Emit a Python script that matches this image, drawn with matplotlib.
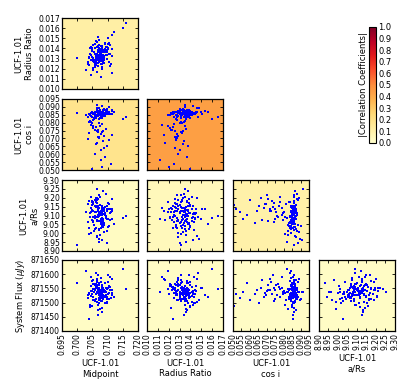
import numpy as np
import matplotlib
matplotlib.use("Agg")
import matplotlib.pyplot as plt
from matplotlib import cm, colors

# posterior samples (core cloud first, low-cos i tail last)
midpoint = [
    0.7070, 0.7086, 0.7059, 0.7082, 0.7098, 0.7073, 0.7050, 0.7079, 0.7093, 0.7066,
    0.7064, 0.7107, 0.7077, 0.7044, 0.7089, 0.7071, 0.7082, 0.7055, 0.7102, 0.7075,
    0.7062, 0.7084, 0.7068, 0.7095, 0.7079, 0.7053, 0.7073, 0.7088, 0.7061, 0.7080,
    0.7113, 0.7070, 0.7046, 0.7091, 0.7077, 0.7066, 0.7086, 0.7057, 0.7097, 0.7071,
    0.7082, 0.7052, 0.7075, 0.7100, 0.7062, 0.7079, 0.7068, 0.7089, 0.7041, 0.7073,
    0.7084, 0.7059, 0.7080, 0.7106, 0.7070, 0.7064, 0.7093, 0.7077, 0.7048, 0.7082,
    0.7071, 0.7088, 0.7061, 0.7075, 0.7098, 0.7066, 0.7080, 0.7055, 0.7086, 0.7073,
    0.7047, 0.7101, 0.7052, 0.7098, 0.7040, 0.7107, 0.7035, 0.7113, 0.7043, 0.7104,
    0.7077, 0.7068, 0.7091, 0.7053, 0.7082, 0.7070, 0.7102, 0.7062, 0.7079, 0.7084,
    0.7073, 0.7095, 0.7057, 0.7080, 0.7066, 0.7089, 0.7050, 0.7075, 0.7109, 0.7071,
    0.7030, 0.7122, 0.7050, 0.7160, 0.7000, 0.7115, 0.7038, 0.7150, 0.7064, 0.7086,
    0.7077, 0.7070, 0.7097, 0.7059, 0.7082,
    0.7073, 0.7062, 0.7086, 0.7053, 0.7079, 0.7095, 0.7068, 0.7046, 0.7082, 0.7106,
    0.7059, 0.7075, 0.7089, 0.7066, 0.7039, 0.7080, 0.7098, 0.7071, 0.7052, 0.7084,
    0.7064, 0.7077, 0.7115, 0.7057, 0.7070, 0.7091, 0.7035, 0.7079, 0.7068, 0.7110,
    0.7061, 0.7082, 0.7073, 0.7048, 0.7088,
]
radius_ratio = [
    0.0136, 0.0131, 0.0140, 0.0128, 0.0134, 0.0143, 0.0137, 0.0125, 0.0139, 0.0132,
    0.0146, 0.0135, 0.0129, 0.0141, 0.0133, 0.0138, 0.0122, 0.0136, 0.0144, 0.0130,
    0.0135, 0.0127, 0.0142, 0.0134, 0.0139, 0.0131, 0.0148, 0.0136, 0.0126, 0.0140,
    0.0133, 0.0137, 0.0129, 0.0145, 0.0135, 0.0132, 0.0138, 0.0124, 0.0141, 0.0136,
    0.0130, 0.0143, 0.0134, 0.0139, 0.0128, 0.0137, 0.0151, 0.0133, 0.0140, 0.0131,
    0.0136, 0.0126, 0.0142, 0.0135, 0.0138, 0.0129, 0.0144, 0.0134, 0.0137, 0.0121,
    0.0139, 0.0132, 0.0147, 0.0135, 0.0130, 0.0141, 0.0136, 0.0127, 0.0138, 0.0133,
    0.0134, 0.0140, 0.0128, 0.0137, 0.0131, 0.0143, 0.0125, 0.0139, 0.0135, 0.0145,
    0.0132, 0.0138, 0.0136, 0.0129, 0.0142, 0.0134, 0.0150, 0.0131, 0.0139, 0.0137,
    0.0127, 0.0141, 0.0135, 0.0133, 0.0146, 0.0130, 0.0138, 0.0136, 0.0123, 0.0140,
    0.0119, 0.0156, 0.0132, 0.0165, 0.0131, 0.0153, 0.0124, 0.0160, 0.0135, 0.0137,
    0.0142, 0.0129, 0.0136, 0.0144, 0.0133,
    0.0130, 0.0124, 0.0133, 0.0119, 0.0128, 0.0136, 0.0126, 0.0114, 0.0131, 0.0127,
    0.0122, 0.0135, 0.0129, 0.0117, 0.0132, 0.0125, 0.0138, 0.0128, 0.0121, 0.0134,
    0.0126, 0.0130, 0.0116, 0.0129, 0.0123, 0.0137, 0.0127, 0.0112, 0.0131, 0.0125,
    0.0133, 0.0120, 0.0128, 0.0140, 0.0126,
]
cos_i = [
    0.0855, 0.0844, 0.0865, 0.0851, 0.0873, 0.0859, 0.0836, 0.0862, 0.0879, 0.0847,
    0.0868, 0.0854, 0.0841, 0.0860, 0.0886, 0.0849, 0.0863, 0.0827, 0.0857, 0.0871,
    0.0846, 0.0867, 0.0852, 0.0876, 0.0839, 0.0859, 0.0894, 0.0851, 0.0865, 0.0831,
    0.0855, 0.0875, 0.0844, 0.0862, 0.0854, 0.0883, 0.0847, 0.0868, 0.0857, 0.0822,
    0.0865, 0.0852, 0.0878, 0.0860, 0.0838, 0.0870, 0.0855, 0.0889, 0.0849, 0.0863,
    0.0843, 0.0867, 0.0857, 0.0900, 0.0846, 0.0871, 0.0854, 0.0833, 0.0862, 0.0851,
    0.0875, 0.0859, 0.0839, 0.0865, 0.0884, 0.0847, 0.0860, 0.0823, 0.0868, 0.0855,
    0.0804, 0.0862, 0.0815, 0.0871, 0.0805, 0.0857, 0.0835, 0.0879, 0.0809, 0.0865,
    0.0852, 0.0873, 0.0844, 0.0863, 0.0907, 0.0854, 0.0867, 0.0830, 0.0859, 0.0878,
    0.0849, 0.0870, 0.0841, 0.0860, 0.0891, 0.0852, 0.0865, 0.0828, 0.0857, 0.0875,
    0.0846, 0.0868, 0.0795, 0.0838, 0.0859, 0.0871, 0.0854, 0.0822, 0.0912, 0.0851,
    0.0863, 0.0843, 0.0876, 0.0855, 0.0867,
    0.0795, 0.0772, 0.0748, 0.0781, 0.0726, 0.0763, 0.0709, 0.0788, 0.0741, 0.0690,
    0.0756, 0.0778, 0.0718, 0.0672, 0.0733, 0.0791, 0.0652, 0.0703, 0.0766, 0.0684,
    0.0745, 0.0628, 0.0719, 0.0603, 0.0751, 0.0584, 0.0697, 0.0562, 0.0738, 0.0541,
    0.0665, 0.0519, 0.0710, 0.0505, 0.0640,
]
a_rs = [
    9.103, 9.041, 9.152, 9.084, 9.127, 9.018, 9.176, 9.063, 9.114, 9.092,
    8.987, 9.135, 9.072, 9.204, 9.046, 9.098, 9.143, 9.013, 9.081, 9.161,
    9.117, 9.034, 9.089, 9.223, 9.057, 9.126, 8.968, 9.106, 9.148, 9.039,
    9.078, 9.132, 9.004, 9.112, 9.069, 9.187, 9.052, 9.094, 9.139, 8.952,
    9.121, 9.061, 9.101, 9.168, 9.027, 9.083, 9.134, 9.009, 9.115, 9.213,
    9.074, 9.096, 9.155, 9.043, 9.124, 8.981, 9.108, 9.058, 9.182, 9.086,
    9.022, 9.141, 9.091, 9.118, 8.943, 9.071, 9.129, 9.049, 9.238, 9.104,
    9.122, 9.037, 9.163, 9.079, 8.998, 9.113, 9.064, 9.192, 9.093, 9.136,
    9.031, 9.099, 9.147, 9.068, 8.961, 9.125, 9.082, 9.174, 9.054, 9.109,
    9.144, 9.088, 9.024, 9.102, 9.198, 9.059, 9.131, 8.992, 9.077, 9.116,
    9.119, 9.051, 9.073, 9.097, 8.932, 9.138, 9.028, 9.087, 9.251, 9.062,
    9.111, 9.153, 9.012, 9.085, 9.123,
    9.112, 9.156, 9.083, 9.174, 9.128, 9.097, 9.193, 9.141, 9.066, 9.167,
    9.119, 9.207, 9.138, 9.075, 9.182, 9.104, 9.151, 9.213, 9.091, 9.145,
    9.172, 9.058, 9.126, 9.188, 9.134, 9.101, 9.162, 9.079, 9.147, 9.118,
    9.196, 9.137, 9.068, 9.159, 9.124,
]
system_flux = [
    871541, 871512, 871563, 871528, 871549, 871497, 871575, 871535, 871518, 871556,
    871503, 871544, 871587, 871522, 871538, 871569, 871481, 871547, 871530, 871514,
    871559, 871536, 871492, 871552, 871526, 871580, 871509, 871543, 871565, 871520,
    871533, 871474, 871557, 871540, 871516, 871571, 871527, 871548, 871501, 871538,
    871562, 871519, 871545, 871596, 871531, 871507, 871553, 871539, 871486, 871550,
    871524, 871566, 871542, 871511, 871535, 871578, 871499, 871546, 871529, 871560,
    871515, 871544, 871603, 871532, 871521, 871555, 871468, 871537, 871549, 871526,
    871541, 871573, 871508, 871552, 871534, 871589, 871517, 871543, 871493, 871558,
    871530, 871547, 871523, 871567, 871539, 871456, 871551, 871513, 871544, 871528,
    871561, 871536, 871505, 871548, 871582, 871524, 871540, 871477, 871554, 871533,
    871610, 871519, 871531, 871547, 871570, 871525, 871442, 871617, 871538, 871550,
    871529, 871563, 871514, 871545, 871536,
    871537, 871556, 871512, 871548, 871571, 871525, 871543, 871589, 871504, 871534,
    871562, 871518, 871546, 871579, 871529, 871551, 871497, 871540, 871566, 871521,
    871553, 871531, 871584, 871509, 871545, 871568, 871527, 871539, 871596, 871515,
    871550, 871532, 871561, 871488, 871544,
]

param_labels = ["UCF-1.01\nMidpoint", "UCF-1.01\nRadius Ratio", "UCF-1.01\ncos i",
                "UCF-1.01\na/Rs", r"System Flux ($\mu Jy$)"]
param_ticks = [
    [0.695, 0.700, 0.705, 0.710, 0.715, 0.720],
    [0.010, 0.011, 0.012, 0.013, 0.014, 0.015, 0.016, 0.017],
    [0.050, 0.055, 0.060, 0.065, 0.070, 0.075, 0.080, 0.085, 0.090, 0.095],
    [8.90, 8.95, 9.00, 9.05, 9.10, 9.15, 9.20, 9.25, 9.30],
    [871400, 871450, 871500, 871550, 871600, 871650],
]
tick_fmt = ["%.3f", "%.3f", "%.3f", "%.2f", "%d"]

# |correlation| shading of each lower-triangle panel
abs_corr = {
    (1, 0): 0.11,
    (2, 0): 0.18, (2, 1): 0.44,
    (3, 0): 0.03, (3, 1): 0.05, (3, 2): 0.10,
    (4, 0): 0.02, (4, 1): 0.02, (4, 2): 0.02, (4, 3): 0.02,
}

samples = [midpoint, radius_ratio, cos_i, a_rs, system_flux]
cmap = plt.get_cmap("YlOrRd")
norm = colors.Normalize(0, 1)

plt.rcParams["font.size"] = 5.5
plt.rcParams["xtick.direction"] = "in"
plt.rcParams["ytick.direction"] = "in"

W, H = 415, 389
fig = plt.figure(figsize=(W / 100, H / 100), dpi=100)

col_left = [62, 147, 233, 319]
row_top = [18, 99, 180, 260]
aw, ah = 76, 71

for r in range(1, 5):
    for c in range(r):
        ax = fig.add_axes([col_left[c] / W, (H - row_top[r - 1] - ah) / H, aw / W, ah / H])
        ax.set_facecolor(cmap(norm(abs_corr[(r, c)])))
        ax.plot(samples[c], samples[r], "s", color="b", ms=1.6, mew=0)
        xt, yt = param_ticks[c], param_ticks[r]
        ax.set_xlim(xt[0], xt[-1])
        ax.set_ylim(yt[0], yt[-1])
        ax.set_xticks(xt)
        ax.set_yticks(yt)
        ax.tick_params(top=True, right=True, length=2.5, width=0.6, pad=1.5)
        for s in ax.spines.values():
            s.set_linewidth(0.9)
        if r == 4:
            ax.set_xticklabels([tick_fmt[c] % v for v in xt], rotation=90)
            ax.set_xlabel(param_labels[c], labelpad=3, fontsize=6)
        else:
            ax.set_xticklabels([])
        if c == 0:
            ax.set_yticklabels([tick_fmt[r] % v for v in yt])
            ax.set_ylabel(param_labels[r], labelpad=3, fontsize=6)
        else:
            ax.set_yticklabels([])

cax = fig.add_axes([369 / W, (H - 143) / H, 7 / W, 116 / H])
cb = fig.colorbar(cm.ScalarMappable(norm=norm, cmap=cmap), cax=cax,
                  ticks=np.arange(0, 1.01, 0.1))
cb.ax.set_yticklabels(["%.1f" % v for v in np.arange(0, 1.01, 0.1)])
cb.ax.tick_params(length=0, pad=1.5, labelsize=6)
cb.outline.set_linewidth(0.8)
cb.ax.yaxis.set_label_position("left")
cb.set_label("|Correlation Coefficients|", fontsize=6, labelpad=1)

fig.savefig("out.png", dpi=100)
